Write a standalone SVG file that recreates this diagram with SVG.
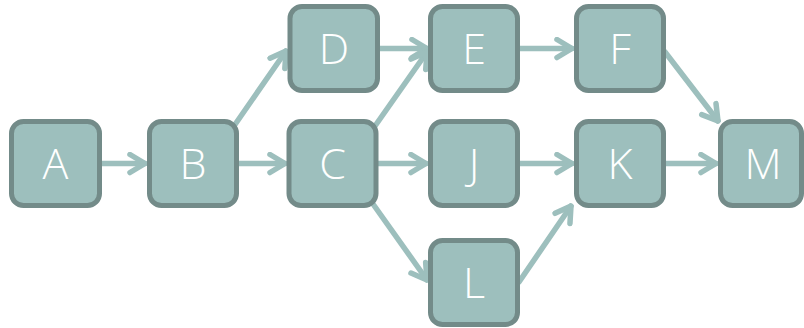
<svg xmlns="http://www.w3.org/2000/svg" width="804" height="328" viewBox="0 0 804 328">
  <defs>
    <style>
      .box { fill: #9dbfbd; stroke: #738b89; stroke-width: 5; }
      .lbl { fill: #ffffff; font-family: "Open Sans", "Noto Sans", sans-serif; font-weight: 300; font-size: 43px; text-anchor: middle; }
      .edge { fill: none; stroke: #9dbfbd; stroke-width: 5.5; stroke-linecap: round; stroke-linejoin: round; }
    </style>
    <marker id="chev" viewBox="-20 -12 22 24" markerWidth="22" markerHeight="24" refX="0" refY="0" orient="auto" markerUnits="userSpaceOnUse">
      <path d="M-15,-9 L0,0 L-15,9" fill="none" stroke="#9dbfbd" stroke-width="5.5" stroke-linecap="round" stroke-linejoin="round"/>
    </marker>
  </defs>

  <rect width="804" height="328" fill="#ffffff"/>

  <!-- connectors -->
  <g id="edges" class="edge" marker-end="url(#chev)">
    <line x1="101" y1="163.5" x2="145" y2="163.5"/>
    <line x1="238" y1="163.5" x2="285" y2="163.5"/>
    <line x1="234" y1="126" x2="286" y2="51"/>
    <line x1="379" y1="48.5" x2="427" y2="48.5"/>
    <line x1="375" y1="126" x2="427" y2="52"/>
    <line x1="520" y1="48.5" x2="572" y2="48.5"/>
    <line x1="665" y1="52" x2="718" y2="121"/>
    <line x1="378" y1="163.5" x2="426" y2="163.5"/>
    <line x1="373" y1="204" x2="427" y2="280"/>
    <line x1="520" y1="163.5" x2="572" y2="163.5"/>
    <line x1="519" y1="282" x2="571" y2="206"/>
    <line x1="665" y1="163.5" x2="716" y2="163.5"/>
  </g>

  <!-- nodes -->
  <g id="node-A"><rect class="box" x="11.5" y="121.5" width="88" height="84" rx="12"/><text class="lbl" x="55.5" y="179">A</text></g>
  <g id="node-B"><rect class="box" x="149.5" y="121.5" width="87" height="84" rx="12"/><text class="lbl" x="193" y="179">B</text></g>
  <g id="node-C"><rect class="box" x="289" y="121.5" width="87" height="84" rx="12"/><text class="lbl" x="332.5" y="179">C</text></g>
  <g id="node-D"><rect class="box" x="290" y="6.5" width="87.5" height="84" rx="12"/><text class="lbl" x="334" y="64">D</text></g>
  <g id="node-E"><rect class="box" x="430.5" y="6.5" width="87" height="84" rx="12"/><text class="lbl" x="474" y="64">E</text></g>
  <g id="node-F"><rect class="box" x="576.5" y="6.5" width="87" height="84" rx="12"/><text class="lbl" x="620" y="64">F</text></g>
  <g id="node-J"><rect class="box" x="430.5" y="121.5" width="87" height="84" rx="12"/><text class="lbl" x="474" y="179">J</text></g>
  <g id="node-K"><rect class="box" x="576.5" y="121.5" width="87" height="84" rx="12"/><text class="lbl" x="620" y="179">K</text></g>
  <g id="node-L"><rect class="box" x="430.5" y="240.5" width="87" height="84" rx="12"/><text class="lbl" x="474" y="298">L</text></g>
  <g id="node-M"><rect class="box" x="720.5" y="121.5" width="81" height="84" rx="12"/><text class="lbl" x="763" y="179">M</text></g>
</svg>
